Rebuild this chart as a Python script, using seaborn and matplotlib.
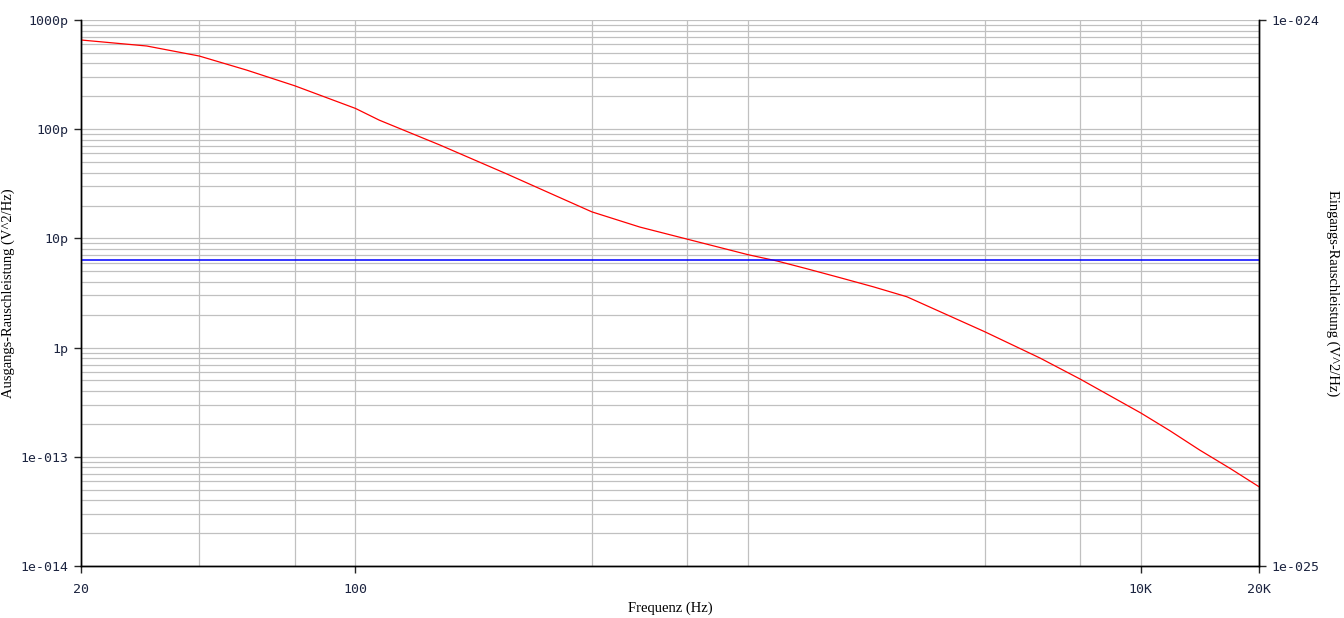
import numpy as np
import pandas as pd
import seaborn as sns
import matplotlib
matplotlib.use("Agg")
import matplotlib.pyplot as plt
from matplotlib.ticker import FixedLocator, FixedFormatter, LogLocator, NullFormatter

# output noise power (Hz, V^2/Hz)
freq = [20, 29.4, 40, 52.8, 70, 100, 115, 164, 243, 325, 400, 530, 1000,
        1185, 1409, 1713, 2080, 2537, 4000, 5535, 7000, 10000,
        11870, 14140, 16870, 20000]
out_noise = [6.56e-10, 5.78e-10, 4.68e-10, 3.48e-10, 2.50e-10, 1.55e-10,
             1.21e-10, 7.17e-11, 3.89e-11, 2.44e-11, 1.75e-11,
             1.27e-11, 7.09e-12, 6.21e-12, 5.28e-12, 4.37e-12, 3.61e-12,
             2.92e-12, 1.40e-12, 8.03e-13, 5.16e-13,
             2.52e-13, 1.73e-13, 1.15e-13, 7.84e-14, 5.32e-14]

# input noise (right axis), flat
in_freq = [20, 20000]
in_noise = [3.63e-25, 3.63e-25]

x_ticks = [20, 100, 10000, 20000]
x_ticklabels = ["20", "100", "10K", "20K"]
x_grid = [40, 70, 100, 400, 700, 1000, 4000, 7000, 10000]
y_ticks = [1e-14, 1e-13, 1e-12, 1e-11, 1e-10, 1e-9]
y_ticklabels = ["1e-014", "1e-013", "1p", "10p", "100p", "1000p"]
y2_ticks = [1e-25, 1e-24]
y2_ticklabels = ["1e-025", "1e-024"]

df_out = pd.DataFrame({"f": freq, "p": out_noise})
df_in = pd.DataFrame({"f": in_freq, "p": in_noise})

sns.set_style("white")
plt.rcParams["font.family"] = ["DejaVu Sans"]

fig = plt.figure(figsize=(13.44, 6.18), dpi=100)
ax = fig.add_axes([81 / 1344, 52 / 618, 1178 / 1344, 546 / 618])
ax.set_xscale("log")
ax.set_yscale("log")
ax2 = ax.twinx()
ax2.set_yscale("log")

sns.lineplot(data=df_out, x="f", y="p", ax=ax, color="#ff0000", linewidth=0.9, zorder=3)
sns.lineplot(data=df_in, x="f", y="p", ax=ax2, color="#0000ff", linewidth=1.1)

ax.set_xlim(20, 20000)
ax.set_ylim(1e-14, 1e-9)
ax2.set_ylim(1e-25, 1e-24)

tick_font = dict(family="DejaVu Sans Mono", size=9.5, color="#1c2440")

# x axis
ax.xaxis.set_major_locator(FixedLocator(x_ticks))
ax.xaxis.set_major_formatter(FixedFormatter(x_ticklabels))
ax.xaxis.set_minor_locator(FixedLocator(x_grid))
ax.xaxis.set_minor_formatter(NullFormatter())
ax.tick_params(axis="x", which="major", direction="out", length=5, width=1, pad=7, bottom=True)
ax.tick_params(axis="x", which="minor", length=0)

# left y axis
ax.yaxis.set_major_locator(FixedLocator(y_ticks))
ax.yaxis.set_major_formatter(FixedFormatter(y_ticklabels))
ax.yaxis.set_minor_locator(LogLocator(base=10, subs=np.arange(2, 10), numticks=20))
ax.yaxis.set_minor_formatter(NullFormatter())
ax.tick_params(axis="y", which="major", direction="out", length=5, width=1, pad=4, left=True)
ax.tick_params(axis="y", which="minor", length=0)

for lab in ax.get_xticklabels() + ax.get_yticklabels():
    lab.set_fontfamily(tick_font["family"])
    lab.set_fontsize(tick_font["size"])
    lab.set_color(tick_font["color"])

# right y axis
ax2.yaxis.set_major_locator(FixedLocator(y2_ticks))
ax2.yaxis.set_major_formatter(FixedFormatter(y2_ticklabels))
ax2.yaxis.set_minor_locator(FixedLocator([]))
ax2.tick_params(axis="y", which="major", direction="out", length=5, width=1, pad=4, right=True)
for lab in ax2.get_yticklabels():
    lab.set_fontfamily(tick_font["family"])
    lab.set_fontsize(tick_font["size"])
    lab.set_color(tick_font["color"])

# grid
ax.grid(True, which="both", axis="both", color="#c0c0c0", linewidth=0.9)
ax.set_axisbelow(True)
ax2.grid(False)

for a in (ax, ax2):
    a.spines["top"].set_visible(False)
    for s in ("left", "bottom", "right"):
        a.spines[s].set_color("black")
        a.spines[s].set_linewidth(1)
        a.spines[s].set_visible(True)

serif = ["Liberation Serif", "DejaVu Serif"]
ax.set_xlabel("Frequenz (Hz)", family=serif, fontsize=10.5, color="black")
ax.xaxis.set_label_coords(0.5, -(608 - 566) / 546)
ax.xaxis.label.set_va("center")
ax.set_ylabel("Ausgangs-Rauschleistung (V^2/Hz)", family=serif, fontsize=10.5, color="black")
ax.yaxis.set_label_coords((8 - 81) / 1178, 0.5)
ax.yaxis.label.set_va("center")
ax2.set_ylabel("Eingangs-Rauschleistung (V^2/Hz)", family=serif, fontsize=10.5,
               color="black", rotation=270)
ax2.yaxis.set_label_coords((1333 - 81) / 1178, 0.5)
ax2.yaxis.label.set_va("center")

fig.savefig("out.png", dpi=100)
